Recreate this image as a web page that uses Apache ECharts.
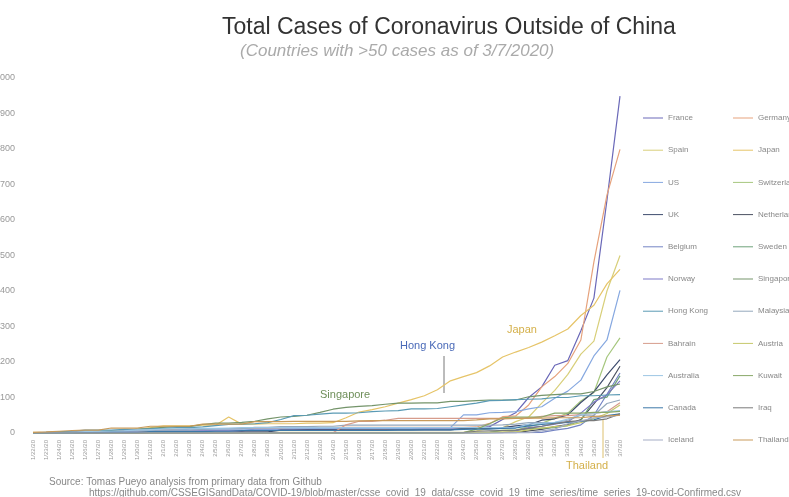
<!DOCTYPE html>
<html>
<head>
    <meta charset="utf-8">
    <title>Total Cases of Coronavirus Outside of China</title>
    <script src="https://cdn.jsdelivr.net/npm/echarts@6/dist/echarts.min.js"></script>
</head>
<body style="margin:0;background:#fff;">
<div id="main" style="width:789px;height:497px;"></div>

<script type="text/javascript">
    // dates on the x axis
    var dates = ['1/22/20','1/23/20','1/24/20','1/25/20','1/26/20','1/27/20','1/28/20','1/29/20','1/30/20','1/31/20',
        '2/1/20','2/2/20','2/3/20','2/4/20','2/5/20','2/6/20','2/7/20','2/8/20','2/9/20','2/10/20',
        '2/11/20','2/12/20','2/13/20','2/14/20','2/15/20','2/16/20','2/17/20','2/18/20','2/19/20','2/20/20',
        '2/21/20','2/22/20','2/23/20','2/24/20','2/25/20','2/26/20','2/27/20','2/28/20','2/29/20',
        '3/1/20','3/2/20','3/3/20','3/4/20','3/5/20','3/6/20','3/7/20'];

    // confirmed cases per country
    var france      = [0,0,2,3,3,3,4,5,5,5, 6,6,6,6,6,6,6,11,11,11,11,11,11,11,12,12,12,12,12,12,12,12,12,12,14,18,38,57,100, 130,191,204,288,380,656,949];
    var germany     = [0,0,0,0,0,1,4,4,4,5, 8,10,12,12,12,12,13,13,14,14,16,16,16,16,16,16,16,16,16,16,16,16,16,16,17,27,46,48,79, 130,159,196,262,482,670,799];
    var spain       = [0,0,0,0,0,0,0,0,0,0, 1,1,1,1,1,1,1,1,2,2,2,2,2,2,2,2,2,2,2,2,2,2,2,2,6,13,15,32,45, 84,120,165,222,259,400,500];
    var japan       = [2,1,2,2,4,4,7,7,11,15, 20,20,20,22,22,45,25,25,26,26,26,28,28,29,43,59,66,74,84,94,105,122,147,159,170,189,214,228,241, 256,274,293,331,360,420,461];
    var us          = [1,1,2,2,5,5,5,5,5,7, 8,8,11,11,11,11,11,11,11,11,12,12,13,13,13,13,13,13,13,13,15,15,15,51,51,57,58,60,68, 74,98,118,149,217,262,402];
    var switzerland = [0,0,0,0,0,0,0,0,0,0, 0,0,0,0,0,0,0,0,0,0,0,0,0,0,0,0,0,0,0,0,0,0,0,0,1,1,8,8,18, 27,42,56,90,114,214,268];
    var uk          = [0,0,0,0,0,0,0,0,0,2, 2,2,2,2,2,2,3,3,3,8,8,9,9,9,9,9,9,9,9,9,9,9,9,13,13,13,15,20,23, 36,40,51,86,116,164,207];
    var netherlands = [0,0,0,0,0,0,0,0,0,0, 0,0,0,0,0,0,0,0,0,0,0,0,0,0,0,0,0,0,0,0,0,0,0,0,0,0,1,1,6, 10,18,24,38,82,128,188];
    var belgium     = [0,0,0,0,0,0,0,0,0,0, 0,0,0,1,1,1,1,1,1,1,1,1,1,1,1,1,1,1,1,1,1,1,1,1,1,1,1,1,1, 2,8,13,23,50,109,169];
    var sweden      = [0,0,0,0,0,0,0,0,0,1, 1,1,1,1,1,1,1,1,1,1,1,1,1,1,1,1,1,1,1,1,1,1,1,1,1,2,7,7,12, 14,15,21,35,94,101,161];
    var norway      = [0,0,0,0,0,0,0,0,0,0, 0,0,0,0,0,0,0,0,0,0,0,0,0,0,0,0,0,0,0,0,0,0,0,0,0,1,1,6,15, 19,25,32,56,87,108,147];
    var singapore   = [0,1,3,3,4,5,7,7,10,13, 16,18,18,24,28,28,30,33,40,45,47,50,58,67,72,75,77,81,84,84,85,85,89,89,91,93,93,93,102, 106,108,110,110,117,130,138];
    var hongKong    = [0,2,2,5,8,8,8,10,10,12, 13,15,15,17,21,24,25,26,29,38,49,50,53,56,56,57,60,62,63,68,68,69,74,79,84,91,92,94,95, 96,100,100,105,105,107,108];
    var malaysia    = [0,0,0,3,4,4,4,7,8,8, 8,8,8,10,12,12,12,16,16,18,18,18,19,19,22,22,22,22,22,22,22,22,22,22,22,22,23,25,29, 29,29,36,50,50,83,93];
    var bahrain     = [0,0,0,0,0,0,0,0,0,0, 0,0,0,0,0,0,0,0,0,0,0,0,0,1,23,33,33,36,41,41,41,41,41,41,41,41,41,41,41, 47,49,49,52,55,60,85];
    var austria     = [0,0,0,0,0,0,0,0,0,0, 0,0,0,0,0,0,0,0,0,0,0,0,0,0,0,0,0,0,0,0,0,0,0,0,2,2,3,3,9, 14,18,21,29,41,55,79];
    var australia   = [0,0,0,0,4,5,5,6,9,9, 12,12,12,13,13,14,15,15,15,15,15,15,15,15,15,15,15,15,15,15,15,15,15,15,15,15,15,15,25, 27,30,39,52,55,60,63];
    var kuwait      = [0,0,0,0,0,0,0,0,0,0, 0,0,0,0,0,0,0,0,0,0,0,0,0,0,0,0,0,0,0,0,0,0,0,1,11,26,43,45,45, 45,56,56,56,58,58,61];
    var canada      = [0,0,0,0,1,1,2,2,2,4, 4,4,4,4,5,5,7,7,7,7,7,7,7,7,7,7,7,7,8,8,9,9,9,10,11,11,13,14,20, 24,27,30,33,37,49,54];
    var iraq        = [0,0,0,0,0,0,0,0,0,0, 0,0,0,0,0,0,0,0,0,0,0,0,0,0,0,0,0,0,0,0,0,0,0,1,5,6,7,8,13, 19,26,32,35,35,40,54];
    var iceland     = [0,0,0,0,0,0,0,0,0,0, 0,0,0,0,0,0,0,0,0,0,0,0,0,0,0,0,0,0,0,0,0,0,0,0,0,0,0,1,1, 6,11,26,34,43,45,50];
    var thailand    = [2,3,5,7,8,8,14,14,14,19, 19,19,19,25,25,25,25,32,32,32,33,33,33,33,33,34,35,35,35,35,35,35,35,35,37,40,40,41,42, 42,43,43,43,47,48,50];

    var leftCol  = ['France','Spain','US','UK','Belgium','Norway','Hong Kong','Bahrain','Australia','Canada','Iceland'];
    var rightCol = ['Germany','Japan','Switzerland','Netherlands','Sweden','Singapore','Malaysia','Austria','Kuwait','Iraq','Thailand'];

    var countries = [
        ['France', france, '#6a68b8'],
        ['Germany', germany, '#e6a27c'],
        ['Spain', spain, '#d8cf7a'],
        ['Japan', japan, '#e6c468'],
        ['US', us, '#86a8e0'],
        ['Switzerland', switzerland, '#a6c77e'],
        ['UK', uk, '#3e4c6e'],
        ['Netherlands', netherlands, '#4a5060'],
        ['Belgium', belgium, '#7484c4'],
        ['Sweden', sweden, '#6ea27a'],
        ['Norway', norway, '#7c78c6'],
        ['Singapore', singapore, '#74946a'],
        ['Hong Kong', hongKong, '#5a9ab4'],
        ['Malaysia', malaysia, '#94a8bc'],
        ['Bahrain', bahrain, '#d69c8c'],
        ['Austria', austria, '#c6c86a'],
        ['Australia', australia, '#9cc6e4'],
        ['Kuwait', kuwait, '#88a868'],
        ['Canada', canada, '#3c78a8'],
        ['Iraq', iraq, '#7a7a7a'],
        ['Iceland', iceland, '#a4acc4'],
        ['Thailand', thailand, '#c89a5a']
    ];

    var chart = echarts.init(document.getElementById('main'));

    var series = countries.map(function (c) {
        return {
            name: c[0],
            type: 'line',
            data: c[1],
            showSymbol: false,
            symbol: 'none',
            lineStyle: {width: 1.2, color: c[2]},
            itemStyle: {color: c[2]},
            emphasis: {disabled: true}
        };
    });

    var legendBase = {
        orient: 'vertical',
        top: 113,
        icon: 'rect',
        itemWidth: 20,
        itemHeight: 1,
        itemGap: 22.2,
        padding: 0,
        selectedMode: false,
        textStyle: {fontSize: 8, color: '#888', lineHeight: 10, fontFamily: 'Liberation Sans'}
    };

    var option = {
        animation: false,
        backgroundColor: '#fff',
        textStyle: {fontFamily: 'Liberation Sans'},
        title: [
            {
                text: 'Total Cases of Coronavirus Outside of China',
                left: 217, top: 11,
                textStyle: {fontSize: 23, fontWeight: 'normal', color: '#333'}
            },
            {
                text: '(Countries with >50 cases as of 3/7/2020)',
                left: 235, top: 38,
                textStyle: {fontSize: 17, fontWeight: 'normal', fontStyle: 'italic', color: '#aaa'}
            },
            {
                text: 'Source: Tomas Pueyo analysis from primary data from Github',
                left: 44, top: 472,
                textStyle: {fontSize: 10, fontWeight: 'normal', color: '#888'}
            },
            {
                text: 'https://github.com/CSSEGISandData/COVID-19/blob/master/csse_covid_19_data/csse_covid_19_time_series/time_series_19-covid-Confirmed.csv',
                left: 84, top: 483,
                textStyle: {fontSize: 10, fontWeight: 'normal', color: '#888'}
            }
        ],
        legend: [
            Object.assign({}, legendBase, {left: 643, data: leftCol}),
            Object.assign({}, legendBase, {left: 733, data: rightCol})
        ],
        grid: {left: 33, right: 169, top: 78, bottom: 64, outerBoundsMode: 'none', containLabel: false},
        xAxis: {
            type: 'category',
            boundaryGap: false,
            data: dates,
            axisLine: {show: false},
            axisTick: {show: false},
            axisLabel: {rotate: 90, fontSize: 6, color: '#999', margin: 7, interval: 0}
        },
        yAxis: {
            type: 'value',
            min: 0,
            max: 1000,
            interval: 100,
            splitLine: {show: false},
            axisLine: {show: false},
            axisTick: {show: false},
            axisLabel: {fontSize: 9, color: '#999', margin: 18, formatter: function (v) { return String(v); }}
        },
        graphic: [
            {type: 'text', left: 400, top: 340, style: {text: 'Hong Kong', fontSize: 11, fill: '#4a6ab8', fontFamily: 'Liberation Sans'}},
            {type: 'line', shape: {x1: 444, y1: 356, x2: 444, y2: 393}, style: {stroke: '#555', lineWidth: 0.8}},
            {type: 'text', left: 507, top: 324, style: {text: 'Japan', fontSize: 11, fill: '#d4b04a', fontFamily: 'Liberation Sans'}},
            {type: 'text', left: 320, top: 389, style: {text: 'Singapore', fontSize: 11, fill: '#6f8f5a', fontFamily: 'Liberation Sans'}},
            {type: 'text', left: 566, top: 460, style: {text: 'Thailand', fontSize: 11, fill: '#d4b04a', fontFamily: 'Liberation Sans'}},
            {type: 'line', shape: {x1: 603, y1: 458, x2: 603, y2: 420}, style: {stroke: '#d4b04a', lineWidth: 0.8}}
        ],
        series: series
    };

    chart.setOption(option);
</script>
</body>
</html>
